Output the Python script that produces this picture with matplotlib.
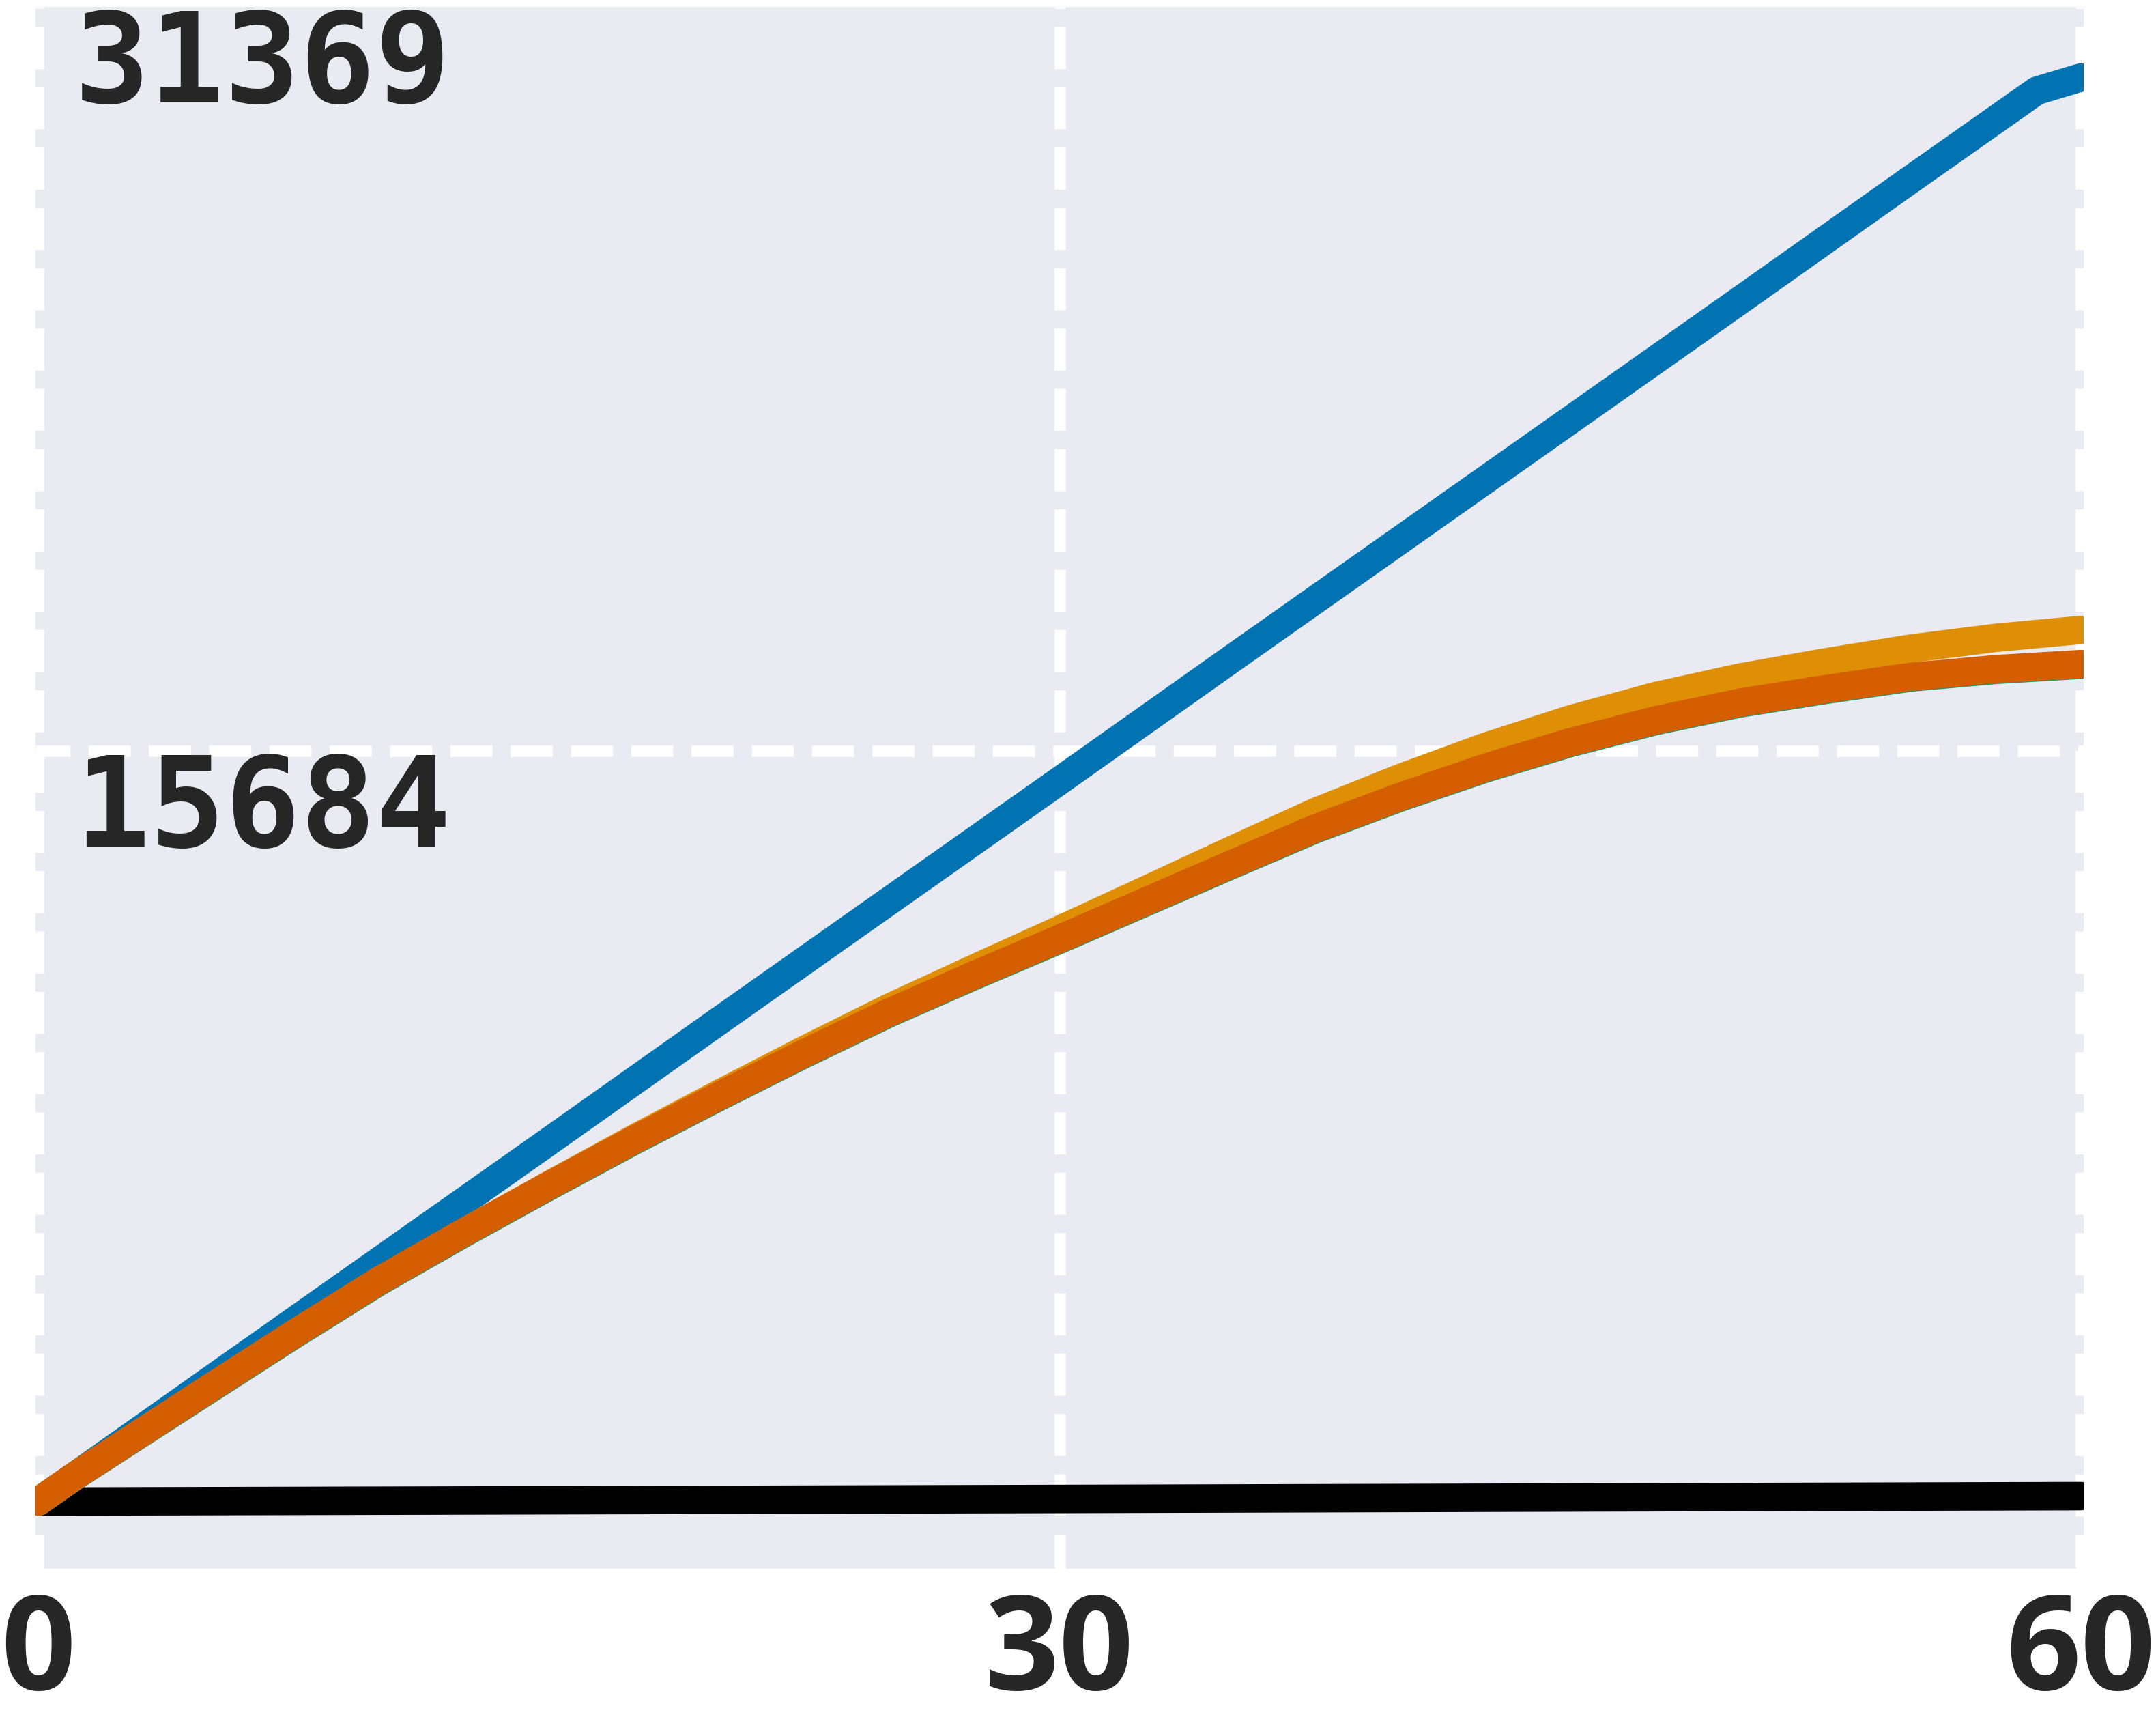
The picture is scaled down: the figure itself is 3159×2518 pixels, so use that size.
import matplotlib

matplotlib.use("Agg")

from matplotlib import pyplot as plt  # noqa: E402
from matplotlib import transforms as mtransforms  # noqa: E402


FIG_W, FIG_H, DPI = 3159, 2518, 300
FACE = "#eaeaf2"
TEXT = "#262626"
BLUE = "#0173b2"
ORANGE = "#de8f05"
GREEN = "#029e73"
RED = "#d55e00"
BLACK = "#000000"

# values
blue_x = [0, 1.1, 5, 10, 15, 20, 25, 30, 35, 40, 45, 50, 55, 58.7, 60]
blue_vals = [-130, 420, 2400, 4930, 7460, 10000, 12530, 15060, 17600, 20130,
             22660, 25190, 27730, 29600, 29880]

curve_x = [0, 1.1, 2.5, 5, 7.5, 10, 12.5, 15, 17.5, 20, 22.5, 25, 27.5, 30,
           32.5, 35, 37.5, 40, 42.5, 45, 47.5, 50, 52.5, 55, 57.5, 60]
orange_vals = [-130, 420, 1074, 2239, 3394, 4514, 5539, 6537, 7515, 8460,
               9385, 10277, 11105, 11917, 12745, 13578, 14395, 15115, 15772,
               16353, 16842, 17237, 17555, 17845, 18072, 18238]
green_vals = [-130, 415, 1065, 2225, 3380, 4500, 5524, 6512, 7475, 8400,
              9300, 10162, 10950, 11712, 12490, 13268, 14035, 14705, 15317,
              15855, 16317, 16692, 16975, 17235, 17397, 17504]
red_vals = [-130, 420, 1074, 2239, 3394, 4514, 5539, 6527, 7490, 8415, 9315,
            10177, 10965, 11727, 12505, 13283, 14050, 14720, 15332, 15870,
            16332, 16707, 16990, 17250, 17412, 17519]

black_x = [0, 30, 60]
black_vals = [-130, -75, -15]

x_ticks = [0, 30, 60]
x_tick_labels = ["0", "30", "60"]
y_label_values = [15684.5, 31369]
y_label_texts = ["15684", "31369"]
y_limits = (-1547, 31369)
x_limits = (-0.08, 60.08)


def main() -> None:
    fig = plt.figure(figsize=(FIG_W / DPI, FIG_H / DPI), dpi=DPI)
    ax = fig.add_axes([52 / FIG_W, 1 - 2298 / FIG_H, 3001 / FIG_W, 2288 / FIG_H])
    ax.set_facecolor(FACE)
    for spine in ax.spines.values():
        spine.set_visible(False)

    line_kw = dict(linewidth=10, solid_capstyle="round", solid_joinstyle="round")
    ax.plot(black_x, black_vals, color=BLACK, **line_kw)
    ax.plot(blue_x, blue_vals, color=BLUE, **line_kw)
    ax.plot(curve_x, orange_vals, color=ORANGE, **line_kw)
    ax.plot(curve_x, green_vals, color=GREEN, **line_kw)
    ax.plot(curve_x, red_vals, color=RED, **line_kw)

    ax.set_xlim(*x_limits)
    ax.set_ylim(*y_limits)
    ax.set_xticks(x_ticks, x_tick_labels)
    ax.set_yticks([y_label_values[0]], [""])
    ax.tick_params(axis="both", length=0)
    ax.tick_params(axis="x", pad=7.5, colors=TEXT, labelsize=46)
    for label in ax.get_xticklabels():
        label.set_fontfamily(["Open Sans", "DejaVu Sans"])
        label.set_fontweight("bold")

    ax.grid(True, color="white", linewidth=4, linestyle=(0.66, (3.7, 1.6)))
    ax.set_axisbelow(True)

    blend = mtransforms.blended_transform_factory(ax.transAxes, ax.transData)
    for value, text in zip(y_label_values, y_label_texts):
        ax.text(
            0.019,
            value,
            text,
            transform=blend,
            ha="left",
            va="top",
            color=TEXT,
            fontsize=44,
            fontweight="bold",
            family=["DejaVu Sans Mono"],
        )

    fig.savefig("out.png", dpi=DPI, facecolor="white")
    plt.close(fig)


if __name__ == "__main__":
    main()
